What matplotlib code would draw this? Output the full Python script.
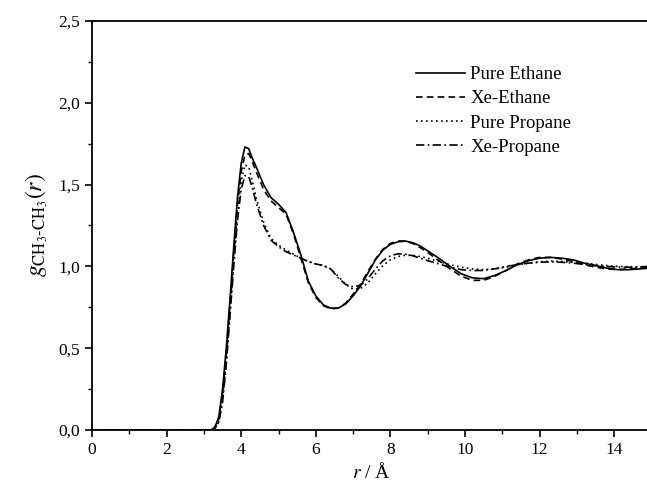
import matplotlib
matplotlib.use("Agg")
import matplotlib.pyplot as plt
from matplotlib.ticker import MultipleLocator

plt.rcParams["font.family"] = ["Liberation Serif", "DejaVu Serif"]
plt.rcParams["mathtext.fontset"] = "stix"

# radial distance grid (Angstrom)
r = [0.0, 3.0, 3.2, 3.3, 3.4, 3.5, 3.6, 3.7, 3.8, 3.9, 4.0, 4.1, 4.2, 4.3, 4.4,
     4.6, 4.8, 5.0, 5.2, 5.4, 5.6, 5.8, 6.0, 6.2, 6.4, 6.6, 6.8, 7.0, 7.2, 7.4,
     7.6, 7.8, 8.0, 8.2, 8.4, 8.6, 8.8, 9.0, 9.3, 9.6, 9.9, 10.2, 10.5, 10.8,
     11.1, 11.4, 11.7, 12.0, 12.3, 12.6, 12.9, 13.2, 13.5, 13.8, 14.1, 14.4,
     14.7, 15.0]

g_pure_ethane = [0.0, 0.0, 0.0, 0.02, 0.08, 0.25, 0.50, 0.80, 1.12, 1.42, 1.63,
                 1.73, 1.72, 1.66, 1.61, 1.50, 1.42, 1.38, 1.33, 1.21, 1.07,
                 0.91, 0.82, 0.765, 0.745, 0.745, 0.77, 0.82, 0.88, 0.96, 1.04,
                 1.10, 1.135, 1.15, 1.155, 1.145, 1.125, 1.095, 1.05, 1.00,
                 0.955, 0.93, 0.925, 0.945, 0.975, 1.01, 1.035, 1.05, 1.055,
                 1.05, 1.04, 1.02, 1.005, 0.99, 0.98, 0.98, 0.985, 0.99]

g_xe_ethane = [0.0, 0.0, 0.0, 0.02, 0.07, 0.22, 0.47, 0.77, 1.08, 1.38, 1.58,
               1.68, 1.69, 1.64, 1.58, 1.47, 1.40, 1.36, 1.32, 1.20, 1.05,
               0.90, 0.81, 0.76, 0.74, 0.745, 0.775, 0.83, 0.89, 0.97, 1.045,
               1.105, 1.14, 1.155, 1.155, 1.14, 1.115, 1.085, 1.035, 0.985,
               0.94, 0.915, 0.915, 0.94, 0.975, 1.015, 1.04, 1.055, 1.055,
               1.045, 1.03, 1.01, 0.995, 0.985, 0.98, 0.985, 0.99, 0.995]

g_pure_propane = [0.0, 0.0, 0.0, 0.01, 0.05, 0.18, 0.42, 0.72, 1.03, 1.32, 1.52,
                  1.62, 1.61, 1.52, 1.42, 1.27, 1.17, 1.13, 1.10, 1.075, 1.05,
                  1.03, 1.015, 1.005, 0.985, 0.94, 0.89, 0.86, 0.865, 0.90,
                  0.955, 1.005, 1.04, 1.06, 1.068, 1.068, 1.06, 1.05, 1.03,
                  1.01, 0.995, 0.985, 0.98, 0.985, 0.995, 1.01, 1.02, 1.028,
                  1.032, 1.03, 1.025, 1.02, 1.012, 1.005, 1.0, 0.998, 0.998, 1.0]

g_xe_propane = [0.0, 0.0, 0.0, 0.01, 0.05, 0.17, 0.40, 0.70, 1.00, 1.28, 1.47,
                1.555, 1.55, 1.48, 1.39, 1.25, 1.16, 1.12, 1.09, 1.07, 1.05,
                1.03, 1.015, 1.005, 0.985, 0.93, 0.89, 0.875, 0.885, 0.925,
                0.985, 1.035, 1.065, 1.077, 1.075, 1.065, 1.05, 1.035, 1.015,
                0.995, 0.98, 0.975, 0.975, 0.985, 1.0, 1.01, 1.02, 1.025,
                1.028, 1.025, 1.02, 1.012, 1.005, 1.0, 0.995, 0.995, 0.997, 1.0]

x_ticks = [0, 2, 4, 6, 8, 10, 12, 14]
y_ticks = [0.0, 0.5, 1.0, 1.5, 2.0, 2.5]
y_ticklabels = ["0,0", "0,5", "1,0", "1,5", "2,0", "2,5"]

fig = plt.figure(figsize=(6.47, 4.91), dpi=100)
# axes runs slightly past the right edge of the picture, like the original crop
ax = fig.add_axes([92 / 647, 61 / 491, 559.5 / 647, 409 / 491])

ax.plot(r, g_pure_ethane, color="black", lw=1.2, ls="-", label="Pure Ethane")
ax.plot(r, g_xe_ethane, color="black", lw=1.2, ls=(0, (4, 2.5)), label="Xe-Ethane")
ax.plot(r, g_pure_propane, color="black", lw=1.2, ls=(0, (1, 2)), label="Pure Propane")
ax.plot(r, g_xe_propane, color="black", lw=1.2, ls=(0, (5, 2, 1, 2)), label="Xe-Propane")

ax.set_xlim(0, 15)
ax.set_ylim(0, 2.5)
ax.set_xticks(x_ticks)
ax.set_yticks(y_ticks)
ax.set_yticklabels(y_ticklabels)
ax.xaxis.set_minor_locator(MultipleLocator(1))
ax.yaxis.set_minor_locator(MultipleLocator(0.25))
ax.tick_params(which="major", direction="out", length=5, width=1.2, labelsize=12.5)
ax.tick_params(which="minor", direction="out", length=3, width=1.0)
ax.spines["right"].set_visible(False)
for s in ["left", "bottom", "top"]:
    ax.spines[s].set_linewidth(1.3)

ax.set_xlabel("$r$ / Å", fontsize=14, labelpad=3)
ax.set_ylabel(r"$g_{\mathrm{CH}_3\text{-}\mathrm{CH}_3}(r)$", fontsize=17, labelpad=6)

ax.legend(loc="upper left", bbox_to_anchor=(416 / 647, 1 - 66 / 491),
          bbox_transform=fig.transFigure, frameon=False, fontsize=13.5,
          handlelength=2.6, handletextpad=0.3, labelspacing=0.38,
          borderpad=0, borderaxespad=0)

fig.savefig("out.png", dpi=100)
